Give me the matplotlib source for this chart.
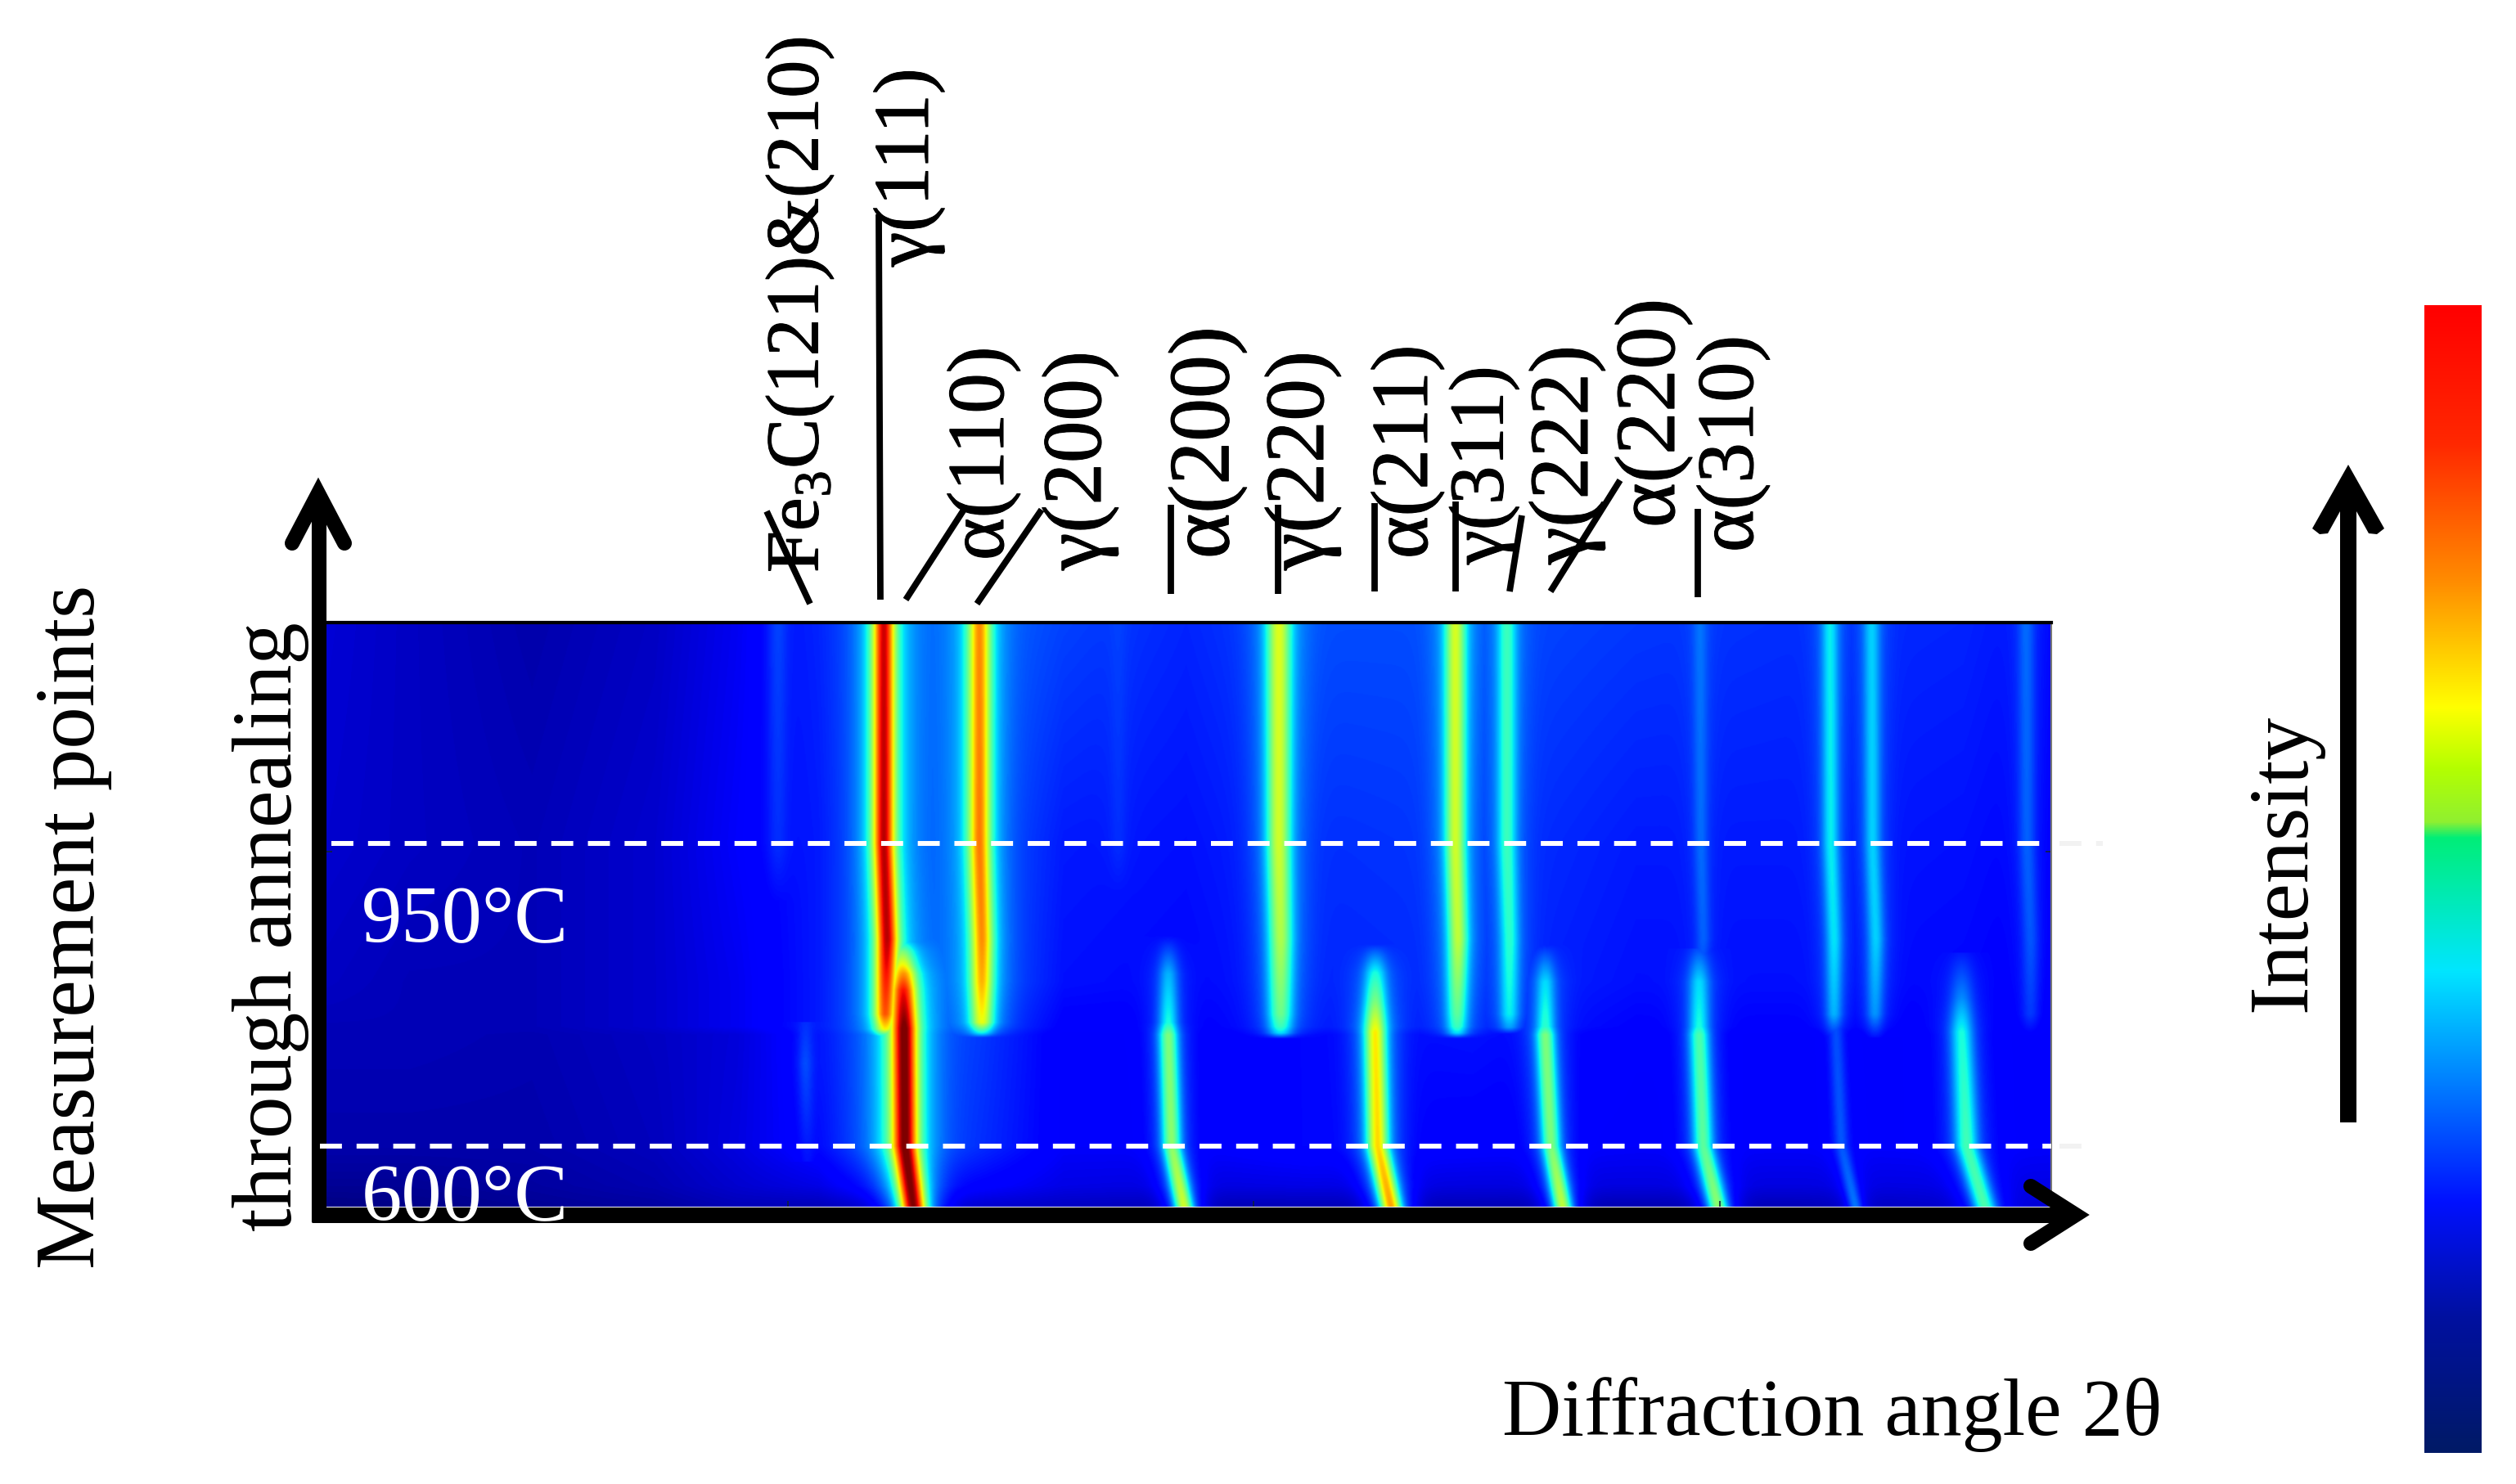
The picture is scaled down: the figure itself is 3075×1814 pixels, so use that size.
import matplotlib
matplotlib.use('Agg')
import matplotlib.pyplot as plt
import matplotlib.patheffects as pe
import numpy as np
from matplotlib.colors import LinearSegmentedColormap
from matplotlib.patches import Polygon

plt.rcParams['font.family'] = ['Liberation Serif', 'DejaVu Serif']
plt.rcParams['mathtext.fontset'] = 'custom'
plt.rcParams['mathtext.rm'] = 'Liberation Serif'

ANCHO, ALTO = 3075, 1814
IZQ, DER, ARR, ABA = 399, 2507, 761, 1475

fondo_filas = [761, 1031, 1200, 1255, 1265, 1401, 1450, 1475]
fondo_cols = [399, 500, 650, 800, 900, 1000, 1080, 1200, 1300, 1450, 1600, 1800, 2000, 2200, 2400, 2507]
fondo_valores = [
    [.076, .06, .04, .06, .10, .16, .23, .23, .19, .16, .20, .20, .18, .17, .16, .13],
    [.07, .06, .05, .07, .11, .15, .23, .22, .15, .14, .17, .18, .15, .15, .14, .12],
    [.06, .05, .05, .07, .10, .15, .24, .22, .14, .13, .16, .17, .14, .14, .13, .115],
    [.05, .05, .05, .07, .10, .15, .24, .20, .12, .12, .15, .16, .125, .125, .12, .11],
    [.05, .05, .045, .06, .08, .14, .24, .18, .11, .115, .13, .14, .115, .11, .115, .11],
    [.04, .04, .04, .055, .085, .13, .24, .17, .11, .11, .13, .12, .11, .11, .115, .11],
    [.02, .02, .03, .045, .07, .09, .15, .12, .09, .085, .09, .085, .085, .085, .09, .09],
    [.005, .01, .02, .03, .05, .05, .08, .07, .06, .05, .05, .05, .045, .05, .07, .08],
]

# Picos: fila, posicion y altura
a_filas = [761, 1031, 1148, 1240, 1258, 1266, 1276]
a_pos = [1080, 1080, 1084, 1082, 1082, 1082, 1082]
a_alt = [.93, .95, .95, .82, .65, .40, 0]

b_filas = [1140, 1163, 1180, 1190, 1210, 1257, 1401, 1475]
b_pos = [1100, 1102, 1103, 1104, 1104, 1105, 1106, 1116]
b_alt = [.22, .50, .65, .75, .89, 1.02, 1.02, 1.0]

c_filas = [761, 1031, 1148, 1200, 1250, 1263, 1274]
c_pos = [1197, 1197, 1200, 1200, 1200, 1200, 1200]
c_alt = [.76, .78, .76, .72, .63, .36, 0]

d_filas = [761, 1031, 1100]
d_pos = [950, 950, 950]
d_alt = [.19, .17, .13]

d2_filas = [1250, 1300, 1420]
d2_pos = [984, 984, 986]
d2_alt = [.17, .20, .14]

d3_filas = [761, 1031, 1120]
d3_pos = [1367, 1367, 1367]
d3_alt = [.19, .17, .13]

e_filas = [1140, 1190, 1250, 1265, 1401, 1475]
e_pos = [1428, 1428, 1428, 1428, 1432, 1447]
e_alt = [.12, .30, .38, .50, .52, .60]

f_filas = [761, 1031, 1148, 1240, 1255, 1263, 1274]
f_pos = [1563, 1563, 1565, 1565, 1565, 1565, 1565]
f_alt = [.62, .60, .56, .48, .42, .34, 0]

g_filas = [1150, 1189, 1225, 1262, 1401, 1475]
g_pos = [1681, 1681, 1681, 1681, 1684, 1700]
g_alt = [.14, .38, .50, .66, .68, .74]

h_filas = [761, 1031, 1148, 1240, 1255, 1263, 1274]
h_pos = [1779, 1779, 1782, 1781, 1781, 1781, 1781]
h_alt = [.61, .60, .58, .46, .42, .34, 0]

i_filas = [761, 1031, 1148, 1240, 1256, 1272]
i_pos = [1842, 1842, 1845, 1845, 1845, 1845]
i_alt = [.42, .42, .40, .36, .28, 0]

j_filas = [1150, 1200, 1255, 1265, 1401, 1475]
j_pos = [1889, 1889, 1889, 1889, 1896, 1910]
j_alt = [.14, .34, .40, .50, .50, .58]

k_filas = [761, 1031, 1148, 1180]
k_pos = [2078, 2079, 2082, 2080]
k_alt = [.24, .23, .22, .20]

l_filas = [1160, 1200, 1255, 1265, 1401, 1475]
l_pos = [2077, 2077, 2077, 2077, 2082, 2100]
l_alt = [.20, .34, .38, .44, .46, .52]

m_filas = [761, 1031, 1148, 1240, 1268]
m_pos = [2237, 2238, 2242, 2242, 2242]
m_alt = [.36, .36, .35, .30, .16]

m2_filas = [1255, 1401, 1475]
m2_pos = [2244, 2251, 2268]
m2_alt = [.20, .21, .24]

n_filas = [761, 1031, 1148, 1240, 1268]
n_pos = [2288, 2289, 2293, 2292, 2292]
n_alt = [.33, .33, .33, .27, .14]

o_filas = [1165, 1220, 1262, 1401, 1475]
o_pos = [2398, 2398, 2398, 2404, 2426]
o_alt = [.15, .26, .38, .43, .44]

p_filas = [761, 1031, 1148, 1240, 1265]
p_pos = [2477, 2478, 2482, 2482, 2482]
p_alt = [.23, .22, .21, .18, .12]

picos = [
    (a_filas, a_pos, a_alt, 9.5), (b_filas, b_pos, b_alt, 11), (c_filas, c_pos, c_alt, 9.5),
    (d_filas, d_pos, d_alt, 8), (d2_filas, d2_pos, d2_alt, 6), (d3_filas, d3_pos, d3_alt, 7),
    (e_filas, e_pos, e_alt, 8), (f_filas, f_pos, f_alt, 10), (g_filas, g_pos, g_alt, 9),
    (h_filas, h_pos, h_alt, 8.5), (i_filas, i_pos, i_alt, 8), (j_filas, j_pos, j_alt, 8),
    (k_filas, k_pos, k_alt, 6), (l_filas, l_pos, l_alt, 8.5), (m_filas, m_pos, m_alt, 7),
    (m2_filas, m2_pos, m2_alt, 6), (n_filas, n_pos, n_alt, 7), (o_filas, o_pos, o_alt, 9.5),
    (p_filas, p_pos, p_alt, 7),
]

# Etiquetas de los picos y sus lineas guia
etiquetas = ['Fe$_{\\mathrm{3}}$C(121)&(210)', 'γ(111)', 'α(110)', 'γ(200)', 'α(200)',
             'γ(220)', 'α(211)', 'γ(311)', 'γ(222)', 'α(220)', 'α(310)']
etiquetas_x = [978, 1111, 1202, 1320, 1476, 1592, 1720, 1814, 1915, 2021, 2118]
etiquetas_y = [700, 326, 685, 697, 683, 697, 683, 690, 690, 645, 675]
etiquetas_tam = [66, 69, 71, 74, 76, 74, 71, 68, 74, 75, 71]
guias_x1 = [937, 1074, 1178, 1273, 1431, 1562, 1680, 1779, 1860, 1980, 2075]
guias_y1 = [625, 262, 623, 623, 617, 617, 615, 613, 630, 587, 622]
guias_x2 = [990, 1076, 1107, 1194, 1431, 1562, 1680, 1779, 1845, 1895, 2075]
guias_y2 = [738, 733, 733, 738, 726, 726, 723, 723, 723, 723, 730]

# Paradas de color de la barra de intensidad
barra_pos = [0, .118, .218, .42, .536, .55, .597, .65, .76, .88, 1]
barra_col = ['#001a66', '#0010a0', '#0010ff', '#00e6ff', '#00ee78', '#90f030',
             '#b4ff00', '#ffff00', '#ff8c00', '#ff2800', '#ff0000']

temperaturas = ['950°C', '600°C']
temperaturas_y = [1150, 1490]
lineas_y = [1031, 1401]
lineas_ini = [405, 391]
lineas_fin = [2570, 2552]
marcas_x = [963, 1532, 2102]


def construir_mapa():
    filas = np.arange(ARR, ABA + 1)
    cols = np.arange(IZQ, DER + 1)
    gruesa = np.array(fondo_valores)
    por_col = np.array([np.interp(cols, fondo_cols, fila) for fila in gruesa])
    base = np.array([np.interp(filas, fondo_filas, por_col[:, j]) for j in range(len(cols))]).T
    mapa = base.copy()
    X = cols[None, :]
    for f, p, a, sigma in picos:
        pos = np.interp(filas, f, p)
        alt = np.interp(filas, f, a, left=0, right=0)
        ind = np.clip((pos - IZQ).astype(int), 0, len(cols) - 1)
        amp = np.maximum(alt - base[np.arange(len(filas)), ind], 0)[:, None]
        d = (X - pos[:, None]) / sigma
        # nucleo estrecho y pie ancho; con maximo los picos vecinos no se suman
        forma = 0.72 * np.exp(-0.5 * d ** 2) + 0.28 * np.exp(-0.5 * (d / 2.2) ** 2)
        mapa = np.maximum(mapa, base + amp * forma)
    return np.clip(mapa, 0, 1)


fig = plt.figure(figsize=(ANCHO / 100, ALTO / 100), dpi=100)

# Mapa de calor
ax = fig.add_axes([IZQ / ANCHO, 1 - ABA / ALTO, (DER - IZQ) / ANCHO, (ABA - ARR) / ALTO])
ax.imshow(construir_mapa(), cmap='jet', vmin=0, vmax=1, aspect='auto',
          extent=[IZQ, DER, ABA, ARR], interpolation='bilinear')
ax.set_xticks(marcas_x)
ax.set_xticklabels([])
ax.set_yticks([1041])
ax.set_yticklabels([])
ax.tick_params(axis='both', direction='in', length=5, width=1.2, color='#102040', right=True)
ax.spines['left'].set_visible(False)
ax.spines['bottom'].set_visible(False)
ax.spines['top'].set_linewidth(3)
ax.spines['right'].set_color('#777777')
ax.spines['right'].set_linewidth(1.5)

# Barra de color
cax = fig.add_axes([2963 / ANCHO, 1 - 1776 / ALTO, 70 / ANCHO, 1403 / ALTO])
cmap_barra = LinearSegmentedColormap.from_list('barra', list(zip(barra_pos, barra_col)), N=512)
cax.imshow(np.linspace(1, 0, 512)[:, None], cmap=cmap_barra, aspect='auto')
cax.axis('off')

# Capa en pixeles para flechas y textos
ov = fig.add_axes([0, 0, 1, 1], zorder=5)
ov.set_xlim(0, ANCHO)
ov.set_ylim(ALTO, 0)
ov.axis('off')

# Ejes gruesos con flecha
ov.plot([390, 390], [1494, 605], color='black', lw=13, solid_capstyle='butt')
ov.plot([381, 2535], [1484.5, 1484.5], color='black', lw=13.7, solid_capstyle='butt')
ov.plot([357, 389, 421], [664, 603, 664], color='black', lw=13, solid_capstyle='round', solid_joinstyle='miter')
ov.plot([2482, 2537, 2482], [1450, 1485, 1520], color='black', lw=13, solid_capstyle='round', solid_joinstyle='miter')

# Lineas de temperatura
for y, ini, fin in zip(lineas_y, lineas_ini, lineas_fin):
    ov.plot([ini, DER], [y, y], color='white', lw=4.3, dashes=(4.5, 3), dash_capstyle='butt')
    ov.plot([DER + 10, fin], [y, y], color='#f2f2f2', lw=4.3, dashes=(4.5, 3), dash_capstyle='butt')

for txt, y in zip(temperaturas, temperaturas_y):
    ov.text(568, y, txt, color='white', fontsize=71, ha='center', va='baseline')

# Etiquetas de los picos, con un trazo fino para darles cuerpo
grueso = [pe.withStroke(linewidth=0.8, foreground='black')]
for txt, x, y, tam in zip(etiquetas, etiquetas_x, etiquetas_y, etiquetas_tam):
    ov.text(x, y, txt, rotation=90, fontsize=tam, ha='center', va='bottom', color='black', path_effects=grueso)
for x1, y1, x2, y2 in zip(guias_x1, guias_y1, guias_x2, guias_y2):
    ov.plot([x1, x2], [y1, y2], color='black', lw=5.6, solid_capstyle='butt')

# Titulos de los ejes
ov.text(90, 1133, 'Measurement points', rotation=90, fontsize=74, ha='center', va='center')
ov.text(331, 1133, 'through annealing', rotation=90, fontsize=74, ha='center', va='center')
ov.text(2239, 1729, 'Diffraction angle 2θ', fontsize=72, ha='center', va='center')
ov.text(2792, 1055, 'Intensity', rotation=90, fontsize=75, ha='center', va='center')

# Flecha de intensidad
ov.add_patch(Polygon([(2870, 568), (2914, 646), (2905, 653), (2895, 652), (2880, 625), (2880, 1372),
                      (2860, 1372), (2860, 625), (2845, 652), (2835, 653), (2826, 646)],
                     closed=True, facecolor='black', edgecolor='none'))

fig.savefig('out.png', dpi=100)
plt.close(fig)
